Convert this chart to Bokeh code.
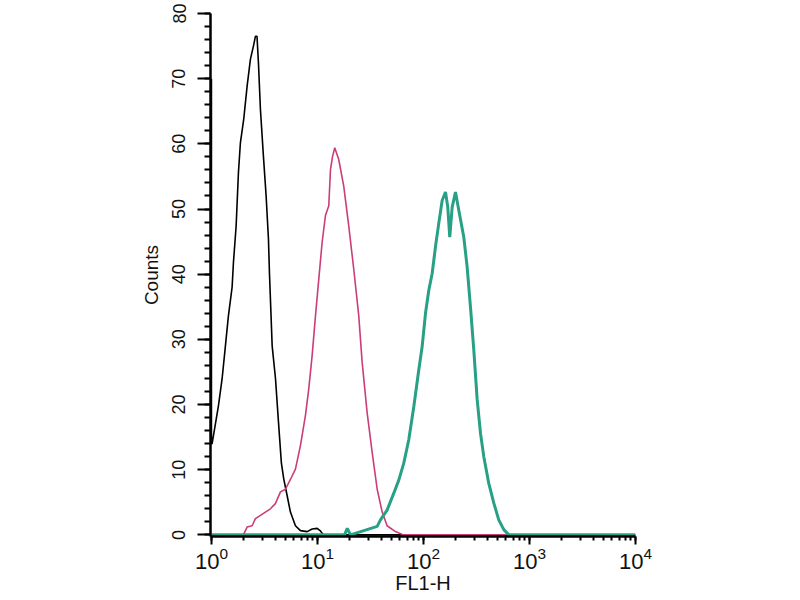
from bokeh.plotting import figure
from bokeh.models import Range1d, FixedTicker, LogTicker
from bokeh.embed import file_html
from bokeh.resources import INLINE

# ---- data (FL1-H intensity, counts) ----
black_x = [1.0, 1.0, 1.015, 1.164, 1.262, 1.355, 1.446, 1.567, 1.613, 1.710, 1.798, 1.877,
           2.017, 2.172, 2.333, 2.49, 2.60, 2.69, 2.775, 2.898, 3.096, 3.28, 3.45, 3.53,
           3.74, 4.02, 4.29, 4.57, 4.81, 5.18, 5.56, 6.20, 6.91, 8.0, 8.91, 9.94, 10.67,
           11.4, 10000.0]
black_y = [70, 14, 14, 19.8, 24, 29, 33.6, 38, 41.8, 47.4, 55.6, 60.2,
           63.8, 68.9, 73, 75, 76.5, 76.5, 72.5, 65.3, 58, 52, 45.4, 40,
           29, 24, 17.3, 11, 8.6, 6, 3.5, 1.4, 0.65, 0.5, 0.9, 1.0, 0.6,
           0, 0]

pink_x = [2.00, 2.17, 2.42, 2.60, 2.90, 3.23, 3.60, 4.01, 4.48, 4.99, 5.56, 6.20, 6.91,
          7.70, 8.28, 8.91, 9.58, 10.29, 11.07, 11.9, 12.79, 13.27, 13.86, 14.56, 15.88,
          17.7, 19.73, 21.99, 24.53, 26.4, 29.4, 32.8, 36.6, 40.8, 45.4, 54.4, 64.8, 10000.0]
pink_y = [0, 1.2, 1.4, 2.5, 3, 3.5, 4, 4.8, 6.6, 7, 8.5, 10.1, 13.7,
          18.3, 22.4, 27.5, 33.6, 39.2, 44.9, 49, 50.5, 56, 58, 59.4, 57.6,
          53.5, 47.4, 40.8, 33.6, 26.5, 18.8, 12.7, 7, 3.5, 1.4, 0.5, 0, 0]

teal_x = [1.0, 18.0, 19.1, 20.5, 36.6, 39.3, 45.4, 52.5, 58.5, 65.2, 72.7, 81.1, 90.3, 97.2,
          104.5, 112.2, 120.8, 129.8, 139.4, 150.1, 161.4, 169.5, 177.0, 186.6,
          200.4, 215.4, 240.0, 258.3, 277.5, 298.3, 321.3, 345.1, 370.7, 413.2,
          460.4, 513.2, 572.3, 638.0, 10000.0]
teal_y = [0, 0, 1, 0, 1.3, 2.3, 3.8, 6.4, 8.4, 11, 14.6, 19.7, 25.3, 28.9,
          34, 37.5, 40.1, 44.2, 47.8, 51.3, 52.6, 50.3, 45.7, 50.3,
          52.6, 49.8, 45.7, 41.1, 35, 28.4, 20.7, 15.6, 12, 7.9,
          4.9, 2.3, 0.8, 0, 0]

y_ticks = [0, 10, 20, 30, 40, 50, 60, 70, 80]
y_minor = [v for v in range(0, 81, 2)]

FONT = "Liberation Sans"

p = figure(x_axis_type="log", output_backend="svg", toolbar_location=None,
           frame_width=425, frame_height=523,
           min_border_left=210, min_border_right=150, min_border_top=13, min_border_bottom=50,
           x_range=Range1d(0.98, 10000), y_range=Range1d(-0.25, 80))

p.outline_line_color = None
p.xgrid.visible = False
p.ygrid.visible = False
p.background_fill_color = "white"
p.border_fill_color = "white"

p.line(black_x, black_y, line_color="black", line_width=1.6)
p.line(pink_x, pink_y, line_color="#cc3d78", line_width=1.6)
p.line(teal_x, teal_y, line_color="#27a085", line_width=3)

# y axis
ya = p.yaxis[0]
ya.ticker = FixedTicker(ticks=y_ticks, minor_ticks=y_minor)
ya.axis_line_width = 2.5
ya.axis_line_color = "black"
ya.major_tick_line_width = 2
ya.minor_tick_line_width = 2
ya.major_tick_out = 13
ya.major_tick_in = 0
ya.minor_tick_out = 6
ya.minor_tick_in = 0
ya.major_label_orientation = "vertical"
ya.major_label_standoff = 12
ya.major_label_text_font = FONT
ya.major_label_text_font_size = "18px"
ya.major_label_text_color = "#111111"
ya.axis_label = "Counts"
ya.axis_label_text_font = FONT
ya.axis_label_text_font_size = "19px"
ya.axis_label_text_font_style = "normal"
ya.axis_label_text_color = "#111111"
ya.axis_label_standoff = 8

# x axis
xa = p.xaxis[0]
xa.ticker = LogTicker(desired_num_ticks=5, num_minor_ticks=10)
xa.axis_line_width = 2.5
xa.axis_line_color = "black"
xa.major_tick_line_width = 2
xa.minor_tick_line_width = 2
xa.major_tick_out = 8
xa.major_tick_in = 0
xa.minor_tick_out = 4
xa.minor_tick_in = 0
xa.major_label_standoff = 2
xa.major_label_text_font = FONT
xa.major_label_text_font_size = "22px"
xa.major_label_text_color = "#111111"
xa.axis_label = "FL1-H"
xa.axis_label_text_font = FONT
xa.axis_label_text_font_size = "20px"
xa.axis_label_text_font_style = "normal"
xa.axis_label_text_color = "#111111"
xa.axis_label_standoff = 0

open("out.html", "w").write(file_html(p, INLINE))
